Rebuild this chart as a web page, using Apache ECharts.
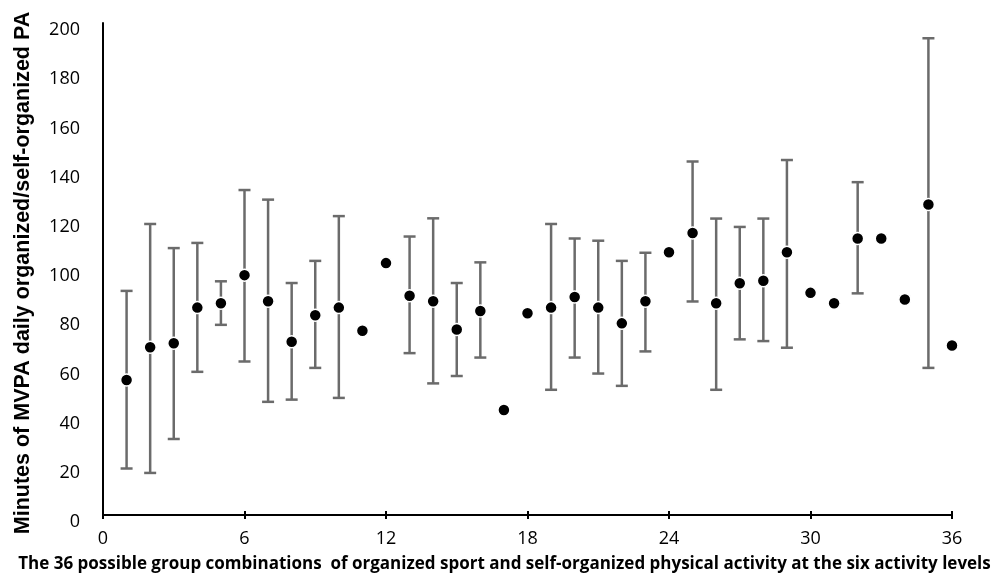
<!DOCTYPE html>
<html>
<head>
<meta charset="utf-8">
<script src="https://cdn.jsdelivr.net/npm/echarts@6/dist/echarts.min.js"></script>
<style>html,body{margin:0;padding:0;background:#fff}#c{width:992px;height:574px}</style>
</head>
<body>
<div id="c"></div>
<script>
const groups = [1,2,3,4,5,6,7,8,9,10,11,12,13,14,15,16,17,18,19,20,21,22,23,24,25,26,27,28,29,30,31,32,33,34,35,36];
const means  = [54.9,68.2,69.8,84.3,86.1,97.5,86.9,70.4,81.2,84.3,74.9,102.4,89.1,86.9,75.4,82.9,42.7,82.0,84.3,88.6,84.3,77.9,86.9,106.8,114.6,86.1,94.2,95.2,106.8,90.3,86.1,112.4,112.4,87.6,126.2,68.9];
const upper  = [91.1,118.3,108.5,110.6,95.0,132.1,128.2,94.3,103.3,121.5,null,null,113.2,120.6,94.3,102.7,null,null,118.3,112.4,111.5,103.3,106.6,null,143.7,120.5,117.1,120.5,144.3,null,null,135.3,null,null,193.8,null];
const lower  = [18.9,17.1,30.9,58.2,77.3,62.4,46.0,46.9,59.8,47.6,null,null,65.8,53.5,56.5,64.0,null,null,50.9,64.0,57.5,52.5,66.5,null,86.8,50.9,71.4,70.7,68.0,null,null,90.1,null,null,59.8,null];
const xTicks = [0,6,12,18,24,30,36];
const yTicks = [0,20,40,60,80,100,120,140,160,180,200];

const barData = [];
groups.forEach((g,i)=>{ if(upper[i]!=null) barData.push([g, lower[i], upper[i]]); });
const ptData = groups.map((g,i)=>[g, means[i]]);

const chart = echarts.init(document.getElementById('c'));
const labelFont = {fontFamily:'Open Sans', fontSize:18, color:'#000'};
chart.setOption({
  animation:false,
  grid:{left:103, right:40, top:23, bottom:59, containLabel:false, outerBoundsMode:'none'},
  xAxis:[{
    type:'value', min:xTicks[0], max:xTicks[xTicks.length-1], interval:6,
    axisLine:{lineStyle:{color:'#000', width:2}},
    axisTick:{show:true, length:4, lineStyle:{color:'#000', width:2}},
    splitLine:{show:false},
    axisLabel:Object.assign({margin:15}, labelFont),
    name:'The 36 possible group combinations  of organized sport and self-organized physical activity at the six activity levels',
    nameLocation:'middle', nameGap:41,
    nameTextStyle:{fontFamily:'Open Sans', fontWeight:'bold', fontSize:17, color:'#000', padding:[0,46,0,0]}
  },{
    type:'value', min:0, max:36, interval:6, position:'bottom',
    axisLine:{show:false}, axisLabel:{show:false}, splitLine:{show:false},
    axisTick:{show:true, inside:true, length:4, lineStyle:{color:'#000', width:2}}
  }],
  yAxis:{
    type:'value', min:yTicks[0], max:yTicks[yTicks.length-1], interval:20,
    axisLine:{show:true, lineStyle:{color:'#000', width:2}},
    axisTick:{show:false}, splitLine:{show:false},
    axisLabel:Object.assign({margin:23, verticalAlign:'top', lineHeight:14}, labelFont),
    name:'Minutes of MVPA daily organized/self-organized PA',
    nameLocation:'middle', nameGap:69,
    nameTextStyle:{fontFamily:'Liberation Sans', fontWeight:'bold', fontSize:21.5, color:'#000', padding:[0,8,0,0]}
  },
  series:[{
    type:'custom',
    data:barData,
    renderItem:function(params, api){
      const x = api.value(0);
      const lo = api.coord([x, api.value(1)]);
      const hi = api.coord([x, api.value(2)]);
      const w = 6;
      const st = {stroke:'#6b6b6b', lineWidth:2.5};
      return {type:'group', children:[
        {type:'line', shape:{x1:lo[0], y1:lo[1], x2:hi[0], y2:hi[1]}, style:st},
        {type:'line', shape:{x1:lo[0]-w, y1:lo[1], x2:lo[0]+w, y2:lo[1]}, style:st},
        {type:'line', shape:{x1:hi[0]-w, y1:hi[1], x2:hi[0]+w, y2:hi[1]}, style:st}
      ]};
    },
    z:2
  },{
    type:'scatter',
    data:ptData,
    symbolSize:12,
    itemStyle:{color:'#000', borderColor:'#fff', borderWidth:1.5, opacity:1},
    z:3
  }]
});
</script>
</body>
</html>
